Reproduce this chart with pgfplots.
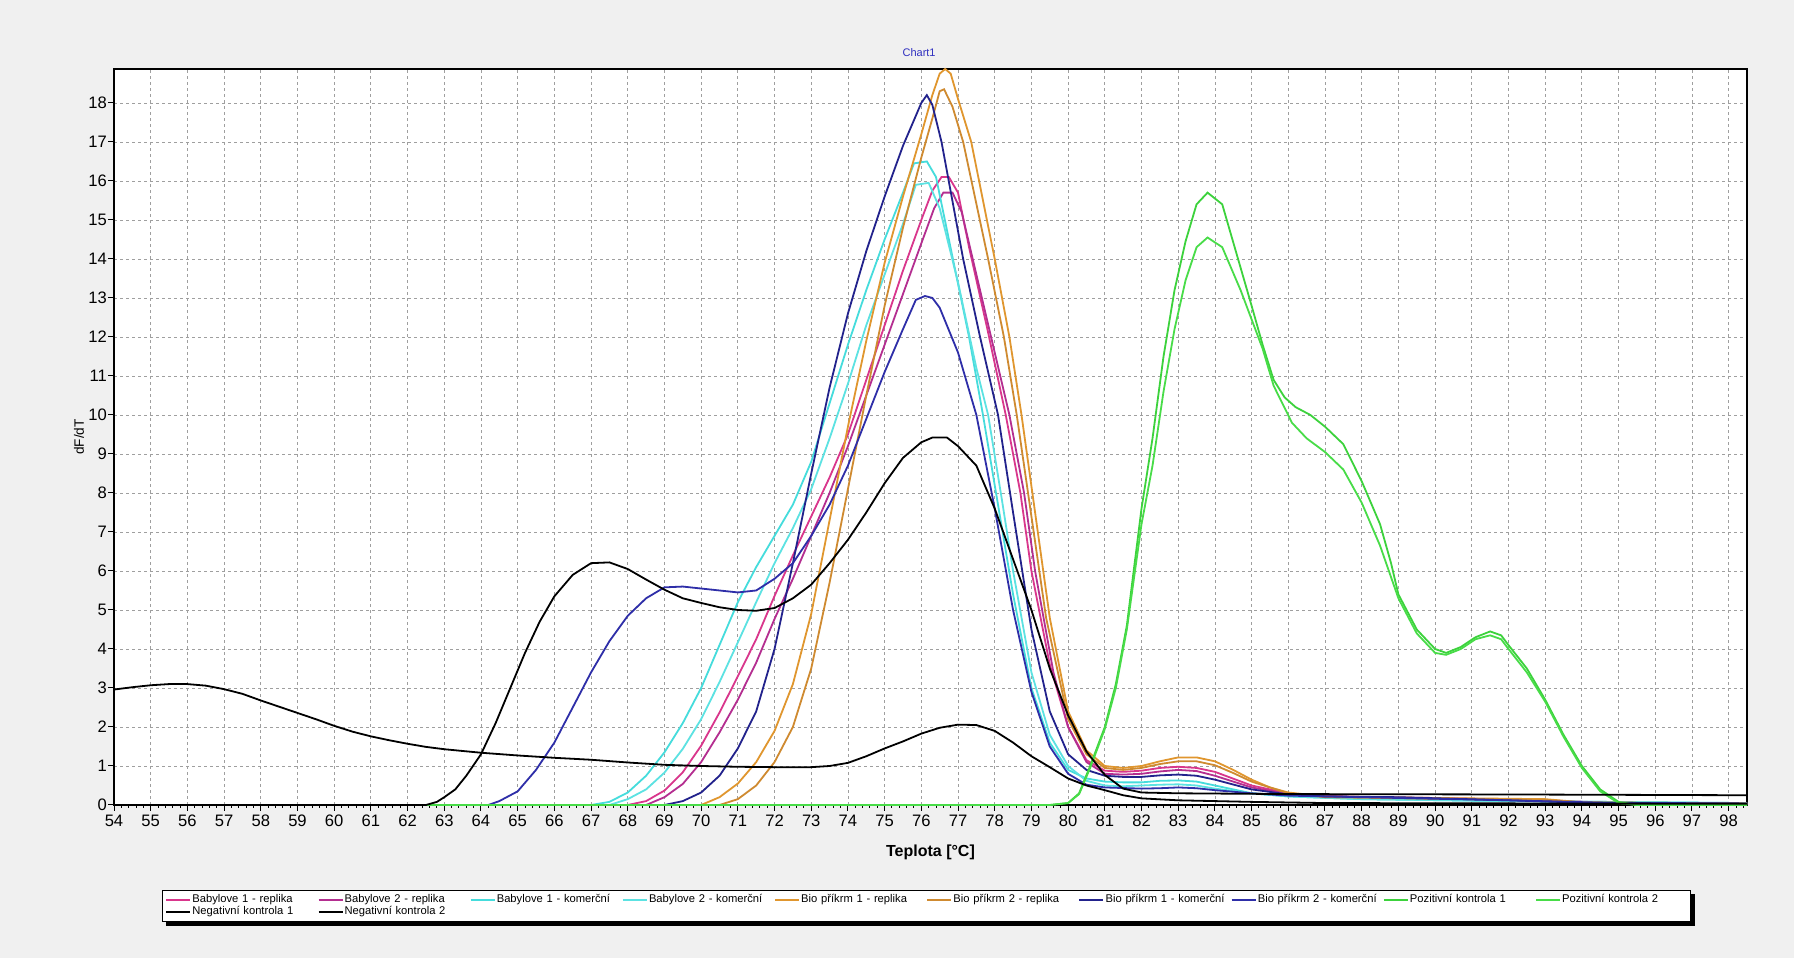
\documentclass[border=0pt]{standalone}
\usepackage{pgfplots}
\pgfplotsset{compat=1.18}
\usepackage{fontspec}
\setmainfont{Liberation Sans}

\definecolor{bgc}{HTML}{F0F0F0}
\definecolor{mag1}{HTML}{D9368C}
\definecolor{mag2}{HTML}{B42E90}
\definecolor{cya1}{HTML}{45DCDC}
\definecolor{cya2}{HTML}{5CE2E2}
\definecolor{ora1}{HTML}{E0962E}
\definecolor{ora2}{HTML}{CF8A30}
\definecolor{nav1}{HTML}{22228C}
\definecolor{nav2}{HTML}{2E2EA8}
\definecolor{gre1}{HTML}{3CD23C}
\definecolor{gre2}{HTML}{48DC48}
\definecolor{ttl}{HTML}{3030C0}

\begin{document}
\begin{tikzpicture}
\fill[bgc] (0,0) rectangle (897pt,479pt);
\begin{axis}[
    at={(57pt,76.5pt)}, anchor=south west,
    scale only axis,
    width=816.5pt, height=368pt,
    xmin=54, xmax=98.5,
    ymin=0, ymax=18.87,
    xtick distance=1, ytick distance=1,
    minor x tick num=4,
    tick pos=left, tick align=outside,
    major tick length=3pt, minor tick length=1.5pt,
    tick style={black, line width=0.5pt},
    grid=major,
    major grid style={gray!75, line width=0.4pt, dash pattern=on 1.5pt off 1.5pt},
    axis line style={black, line width=0.8pt},
    axis background/.style={fill=white},
    clip=false,
    /pgf/number format/assume math mode=true,
    ticklabel style={font=\fontsize{8.3}{10}\selectfont},
    xticklabel style={yshift=1.6pt},
    yticklabel style={xshift=3pt},
    title={Chart1},
    title style={font=\fontsize{5.5}{6}\selectfont, text=ttl, anchor=base, xshift=-5.7pt},
    xlabel={Teplota [°C]},
    xlabel style={font=\fontsize{8}{9}\selectfont\bfseries, at={(axis description cs:0.5,-0.0693)}, anchor=base},
    ylabel={dF/dT},
    ylabel style={font=\fontsize{6.8}{8}\selectfont, at={(axis description cs:-0.0214,0.5)}, anchor=center},
    legend columns=10,
    legend cell align=left,
    legend image code/.code={\draw[#1, line width=0.9pt] (0pt,0pt) -- (12pt,0pt);},
    legend style={name=leg, at={(axis description cs:0,0)}, anchor=north west, xshift=24pt, yshift=-42.5pt,
        draw=black, line width=0.4pt, fill=white,
        font=\fontsize{5.6}{6.5}\selectfont,
        inner sep=1.5pt, row sep=-1pt,
        nodes={text width=62pt, align=left, inner sep=0.6pt}},
    every axis plot/.append style={line width=0.9pt},
]

% Babylove 1 - replika
\addplot[mag1] coordinates {
(54,0)(68,0)(68.5,0.1)(69,0.37)(69.5,0.84)(70,1.52)(70.5,2.37)(71,3.3)(71.5,4.25)(72,5.36)(72.5,6.4)(73,7.4)(73.5,8.4)(74,9.5)(74.5,10.9)(75,12.3)(75.5,13.7)(76,15.0)(76.3,15.75)(76.55,16.1)(76.75,16.1)(77,15.7)(77.3,14.3)(77.8,12.2)(78.3,10)(78.7,8)(79,6.0)(79.5,3.6)(80,2.0)(80.5,1.15)(81,0.88)(81.5,0.85)(82,0.88)(82.5,0.95)(83,0.98)(83.5,0.95)(84,0.85)(85,0.5)(86,0.3)(87,0.22)(90,0.18)(93,0.12)(95,0.05)(98.5,0.03)
};
\addlegendentry{Babylove 1 - replika}
% Babylove 2 - replika
\addplot[mag2] coordinates {
(54,0)(68.5,0)(69,0.2)(69.5,0.54)(70,1.1)(70.5,1.86)(71,2.7)(71.5,3.65)(72,4.77)(72.5,5.8)(73,6.9)(73.5,8.0)(74,9.2)(74.5,10.5)(75,11.8)(75.5,13.1)(76,14.4)(76.35,15.3)(76.6,15.7)(76.85,15.7)(77.1,15.2)(77.4,14.0)(77.9,12.0)(78.4,10)(78.8,8)(79.1,6)(79.6,3.4)(80,2.0)(80.5,1.1)(81,0.8)(81.5,0.78)(82,0.8)(82.5,0.86)(83,0.9)(83.5,0.87)(84,0.75)(85,0.45)(86,0.28)(88,0.2)(92,0.14)(95,0.05)(98.5,0.03)
};
\addlegendentry{Babylove 2 - replika}
% Babylove 1 - komercni
\addplot[cya1] coordinates {
(54,0)(67,0)(67.5,0.08)(68,0.32)(68.5,0.75)(69,1.35)(69.5,2.1)(70,3.0)(70.5,4.1)(71,5.2)(71.5,6.1)(72,6.9)(72.5,7.7)(73,8.8)(73.5,10.3)(74,11.8)(74.5,13.2)(75,14.5)(75.5,15.7)(75.8,16.45)(76.15,16.5)(76.4,16.1)(76.86,14)(77.3,12)(77.68,10)(78,8.2)(78.5,5.4)(79,3.0)(79.5,1.6)(80,0.9)(80.5,0.68)(81,0.6)(81.5,0.58)(82,0.58)(82.5,0.62)(83,0.63)(83.5,0.6)(84,0.5)(84.5,0.4)(85,0.3)(86,0.22)(88,0.15)(92,0.1)(98.5,0.05)
};
\addlegendentry{Babylove 1 - komerční}
% Babylove 2 - komercni
\addplot[cya2] coordinates {
(54,0)(67.5,0)(68,0.15)(68.5,0.4)(69,0.83)(69.5,1.44)(70,2.2)(70.5,3.15)(71,4.17)(71.5,5.2)(72,6.2)(72.5,7.1)(73,8.1)(73.5,9.4)(74,10.8)(74.5,12.3)(75,13.6)(75.5,14.9)(75.85,15.9)(76.2,15.95)(76.5,15.3)(77,13.4)(77.5,11.2)(77.82,10)(78.2,7.8)(78.5,6.0)(79,3.4)(79.5,1.8)(80,1.0)(80.5,0.62)(81,0.5)(81.5,0.48)(82,0.5)(82.5,0.52)(83,0.53)(83.5,0.5)(84,0.42)(85,0.3)(86,0.22)(88,0.15)(92,0.1)(98.5,0.05)
};
\addlegendentry{Babylove 2 - komerční}
% Bio prikrm 1 - replika
\addplot[ora1] coordinates {
(54,0)(70,0)(70.5,0.2)(71,0.55)(71.5,1.1)(72,1.9)(72.5,3.1)(73,4.9)(73.5,7.3)(74,9.7)(74.5,11.9)(75,13.9)(75.5,15.6)(76,17.2)(76.3,18.2)(76.5,18.75)(76.65,18.87)(76.8,18.75)(77,18.1)(77.36,17)(78,14)(78.4,12)(78.73,10)(79.1,7.5)(79.5,4.8)(80,2.4)(80.5,1.4)(81,1.0)(81.5,0.95)(82,1.0)(82.5,1.12)(83,1.22)(83.5,1.22)(84,1.12)(84.5,0.9)(85,0.65)(85.5,0.45)(86,0.32)(87,0.22)(90,0.18)(93,0.15)(94,0.07)(98.5,0.04)
};
\addlegendentry{Bio příkrm 1 - replika}
% Bio prikrm 2 - replika
\addplot[ora2] coordinates {
(54,0)(70.5,0)(71,0.15)(71.5,0.5)(72,1.1)(72.5,2.0)(73,3.5)(73.5,5.7)(74,8.1)(74.5,10.5)(75,12.8)(75.5,14.8)(76,16.6)(76.3,17.6)(76.5,18.3)(76.62,18.35)(76.85,17.9)(77.14,17)(77.82,14)(78.25,12)(78.6,10)(79,7.4)(79.4,4.8)(80,2.2)(80.5,1.3)(81,0.95)(81.5,0.9)(82,0.95)(82.5,1.05)(83,1.12)(83.5,1.12)(84,1.02)(84.5,0.82)(85,0.6)(86,0.3)(87,0.2)(90,0.16)(93,0.13)(94,0.06)(98.5,0.04)
};
\addlegendentry{Bio příkrm 2 - replika}
% Bio prikrm 1 - komercni
\addplot[nav1] coordinates {
(54,0)(69,0)(69.5,0.1)(70,0.32)(70.5,0.75)(71,1.45)(71.5,2.4)(72,4.0)(72.5,6.2)(73,8.5)(73.5,10.7)(74,12.6)(74.5,14.2)(75,15.6)(75.5,16.9)(76,18.0)(76.15,18.2)(76.3,17.95)(76.55,17)(77.14,14)(77.6,12)(78.09,10)(78.5,7.5)(79,4.5)(79.5,2.4)(80,1.3)(80.5,0.9)(81,0.75)(81.5,0.72)(82,0.72)(82.5,0.76)(83,0.78)(83.5,0.75)(84,0.65)(85,0.4)(86,0.27)(87,0.22)(89,0.2)(92,0.12)(94,0.06)(98.5,0.04)
};
\addlegendentry{Bio příkrm 1 - komerční}
% Bio prikrm 2 - komercni
\addplot[nav2] coordinates {
(54,0)(64.2,0)(64.5,0.1)(65,0.35)(65.5,0.9)(66,1.6)(66.5,2.5)(67,3.4)(67.5,4.2)(68,4.85)(68.5,5.3)(69,5.58)(69.5,5.6)(70,5.55)(70.5,5.5)(71,5.45)(71.5,5.5)(72,5.8)(72.5,6.2)(73,6.9)(73.5,7.7)(74,8.7)(74.5,9.9)(75,11.1)(75.5,12.2)(75.85,12.95)(76.1,13.05)(76.3,13.0)(76.5,12.75)(77,11.6)(77.5,10.0)(78,7.6)(78.5,5.0)(79,2.9)(79.5,1.5)(80,0.8)(80.5,0.52)(81,0.45)(82,0.42)(82.5,0.43)(83,0.45)(83.5,0.43)(84,0.38)(85,0.3)(86,0.24)(88,0.2)(92,0.12)(95,0.05)(98.5,0.03)
};
\addlegendentry{Bio příkrm 2 - komerční}
% Pozitivni kontrola 1
\addplot[gre1] coordinates {
(54,0)(79.5,0)(80,0.05)(80.3,0.3)(80.6,1.0)(81,2.0)(81.3,3.1)(81.6,4.6)(82,7.6)(82.3,9.4)(82.6,11.5)(82.9,13.2)(83.2,14.45)(83.5,15.4)(83.8,15.7)(84.2,15.4)(84.6,14.1)(85,12.8)(85.3,11.8)(85.6,10.9)(85.9,10.45)(86.2,10.2)(86.6,10.0)(87,9.7)(87.5,9.25)(88,8.3)(88.5,7.2)(88.8,6.2)(89,5.4)(89.5,4.5)(90,4.0)(90.3,3.9)(90.7,4.05)(91.1,4.3)(91.5,4.45)(91.8,4.35)(92,4.1)(92.5,3.5)(93,2.7)(93.5,1.8)(94,1.0)(94.5,0.4)(95,0.08)(95.5,0)(98.5,0)
};
\addlegendentry{Pozitivní kontrola 1}
% Pozitivni kontrola 2
\addplot[gre2] coordinates {
(54,0)(79.5,0)(80,0.05)(80.3,0.28)(80.6,0.95)(81,1.95)(81.3,3.0)(81.6,4.5)(82,7.2)(82.3,8.7)(82.6,10.6)(82.9,12.2)(83.2,13.45)(83.5,14.3)(83.8,14.55)(84.2,14.3)(84.7,13.2)(85.3,11.7)(85.6,10.75)(86.1,9.8)(86.5,9.4)(87,9.05)(87.5,8.6)(88,7.75)(88.5,6.65)(89,5.3)(89.5,4.4)(90,3.9)(90.3,3.85)(90.7,4.0)(91.1,4.25)(91.5,4.35)(91.8,4.25)(92,4.0)(92.5,3.4)(93,2.65)(93.5,1.75)(94,0.95)(94.5,0.35)(95,0.05)(95.5,0)(98.5,0)
};
\addlegendentry{Pozitivní kontrola 2}
% Negativni kontrola 1
\addplot[black] coordinates {
(54,2.96)(54.5,3.02)(55,3.07)(55.5,3.1)(56,3.1)(56.5,3.06)(57,2.97)(57.5,2.85)(58,2.68)(58.5,2.52)(59,2.36)(59.5,2.2)(60,2.03)(60.5,1.88)(61,1.76)(61.5,1.66)(62,1.57)(62.5,1.49)(63,1.43)(64,1.34)(65,1.27)(66,1.21)(67,1.16)(68,1.09)(69,1.03)(70,1.0)(71,0.98)(72,0.97)(73,0.97)(73.5,1.0)(74,1.08)(74.5,1.25)(75,1.45)(75.5,1.63)(76,1.83)(76.5,1.98)(77,2.06)(77.5,2.05)(78,1.9)(78.5,1.6)(79,1.25)(79.5,0.97)(80,0.68)(80.5,0.5)(81,0.38)(81.5,0.25)(82,0.17)(83,0.12)(85,0.08)(87,0.05)(98.5,0.03)
};
\addlegendentry{Negativní kontrola 1}
% Negativni kontrola 2
\addplot[black] coordinates {
(54,0)(62.5,0)(62.8,0.08)(63,0.2)(63.3,0.4)(63.6,0.75)(64,1.3)(64.4,2.1)(64.8,3.0)(65.2,3.9)(65.6,4.7)(66,5.35)(66.5,5.9)(67,6.2)(67.5,6.22)(68,6.05)(68.5,5.78)(69,5.52)(69.5,5.3)(70,5.18)(70.5,5.07)(71,5.0)(71.5,4.98)(72,5.05)(72.5,5.3)(73,5.65)(73.5,6.2)(74,6.8)(74.5,7.5)(75,8.25)(75.5,8.9)(76,9.3)(76.3,9.42)(76.7,9.42)(77,9.2)(77.5,8.7)(78,7.6)(78.5,6.3)(79,5.0)(79.5,3.5)(80,2.3)(80.5,1.37)(81,0.77)(81.5,0.42)(82,0.32)(83,0.3)(86,0.28)(92,0.27)(98.5,0.25)
};
\addlegendentry{Negativní kontrola 2}

\end{axis}
% drop shadow of the legend box
\fill[black] ([xshift=2pt]leg.south west) rectangle ([xshift=2pt,yshift=-2pt]leg.south east);
\fill[black] ([yshift=-2pt]leg.north east) rectangle ([xshift=2pt]leg.south east);
\end{tikzpicture}
\end{document}
